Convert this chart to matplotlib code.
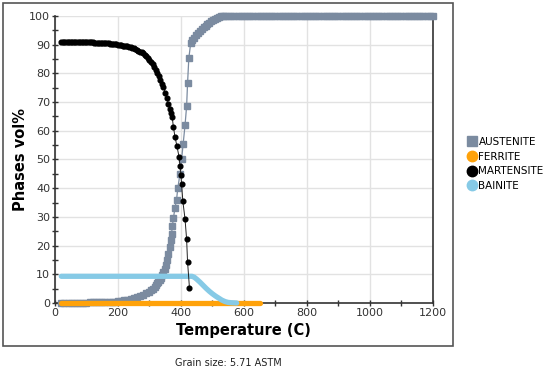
import numpy as np
import matplotlib
matplotlib.use("Agg")
import matplotlib.pyplot as plt
from matplotlib.lines import Line2D
from matplotlib.patches import Rectangle
from matplotlib.ticker import MultipleLocator

# phase fractions vs temperature
t_aus = [20, 30, 40, 50, 60, 70, 80, 90, 100, 110, 120, 130, 140, 150, 160, 170, 180, 190, 200,
         210, 220, 230, 240, 250, 260, 270, 280, 290, 300, 305, 310, 316, 320, 324, 328, 332, 336,
         340, 344, 348, 352, 356, 360, 364, 367, 370, 373, 376, 381, 386, 390, 397, 402, 407, 413,
         418, 421, 425, 431, 436, 442, 448, 454, 460, 466, 472, 478, 484, 490, 496, 502, 508, 514,
         520, 526, 532, 540, 550, 560, 570, 580, 590, 600, 610, 620, 630, 640, 650, 660, 670, 680,
         690, 700, 710, 720, 730, 740, 750, 760, 770, 780, 790, 800, 810, 820, 830, 840, 850, 860,
         870, 880, 890, 900, 910, 920, 930, 940, 950, 960, 970, 980, 990, 1000, 1010, 1020, 1030,
         1040, 1050, 1060, 1070, 1080, 1090, 1100, 1110, 1120, 1130, 1140, 1150, 1160, 1170, 1180,
         1190, 1200]
v_aus = [0.0, 0.0, 0.0, 0.0, 0.1, 0.1, 0.1, 0.1, 0.1, 0.2, 0.2, 0.2, 0.2, 0.3, 0.3, 0.3, 0.4, 0.5, 0.6,
         0.7, 0.9, 1.1, 1.3, 1.6, 2.0, 2.4, 2.9, 3.4, 4.0, 4.4, 4.8, 5.6, 6.2, 6.8, 7.4, 8.0, 8.8,
         9.8, 10.8, 12.0, 13.3, 15.0, 17.0, 19.5, 21.8, 24.2, 26.8, 29.6, 33.0, 36.0, 40.0, 45.0, 50.0, 55.4, 62.0,
         68.6, 76.6, 85.3, 90.6, 91.5, 92.5, 93.3, 94.0, 94.7, 95.4, 96.0, 96.6, 97.1, 97.6, 98.1, 98.6, 99.0, 99.4,
         99.7, 99.9, 100, 100, 100, 100, 100, 100, 100, 100, 100, 100, 100, 100, 100, 100, 100, 100,
         100, 100, 100, 100, 100, 100, 100, 100, 100, 100, 100, 100, 100, 100, 100, 100, 100, 100,
         100, 100, 100, 100, 100, 100, 100, 100, 100, 100, 100, 100, 100, 100, 100, 100, 100,
         100, 100, 100, 100, 100, 100, 100, 100, 100, 100, 100, 100, 100, 100, 100,
         100, 100]

t_ferr = [20, 200, 400, 650]
v_ferr = [0, 0, 0, 0]

t_mart = [20, 25, 30, 35, 40, 45, 50, 55, 60, 65, 70, 75, 80, 85, 90, 95, 100, 105, 110, 115, 120,
          125, 130, 135, 140, 145, 150, 155, 160, 165, 170, 175, 180, 185, 190, 195, 200, 205, 210,
          215, 220, 225, 230, 235, 240, 245, 250, 255, 260, 265, 270, 275, 280, 285, 290, 295, 300,
          305, 310, 315, 320, 325, 330, 335, 340, 344, 350, 355, 360, 365, 369, 372, 376, 381, 387,
          394, 397, 400, 402, 406, 413, 418, 421, 427]
v_mart = [91.0, 91.0, 91.0, 91.0, 91.0, 91.0, 91.0, 90.9, 90.9, 90.9, 90.9, 90.9, 90.9, 90.9, 90.9,
          90.8, 90.8, 90.8, 90.8, 90.8, 90.8, 90.7, 90.7, 90.7, 90.7, 90.6, 90.6, 90.6, 90.6, 90.5,
          90.5, 90.4, 90.4, 90.3, 90.2, 90.1, 90.0, 89.9, 89.8, 89.7, 89.6, 89.5, 89.4, 89.2, 89.1,
          88.9, 88.7, 88.5, 88.2, 87.9, 87.6, 87.3, 87.0, 86.5, 86.0, 85.4, 84.8, 84.0, 83.2, 82.3,
          81.3, 80.2, 79.0, 77.7, 76.4, 75.4, 73.3, 71.3, 69.5, 67.6, 66.2, 64.9, 61.4, 57.9, 54.8,
          50.9, 47.8, 44.6, 41.4, 35.5, 29.2, 22.2, 14.3, 5.3]

t_bain = [20, 200, 400, 435, 442, 450, 460, 470, 480, 490, 500, 510, 520, 530, 540, 550, 560, 577]
v_bain = [9.3, 9.3, 9.3, 9.3, 9.0, 8.3, 7.3, 6.2, 5.1, 4.1, 3.2, 2.4, 1.7, 1.0, 0.5, 0.2, 0.1, 0.0]

phases = ["AUSTENITE", "FERRITE", "MARTENSITE", "BAINITE"]
c_aus = "#7b8ba0"
c_ferr = "#ffa20a"
c_mart = "#000000"
c_bain = "#86cae6"

fig = plt.figure(figsize=(5.5, 3.72), dpi=100)
ax = fig.add_axes([0.1, 0.1855, 0.687, 0.7715])

ax.plot(t_aus, v_aus, color=c_aus, lw=0.9, marker="s", ms=4.2, mec=c_aus, mfc=c_aus,
        zorder=3, clip_on=False)
ax.plot(t_ferr, v_ferr, color=c_ferr, lw=3.8, solid_capstyle="round", zorder=4, clip_on=False)
ax.plot(t_bain, v_bain, color=c_bain, lw=3.8, solid_capstyle="round", zorder=5, clip_on=False)
ax.plot(t_mart, v_mart, color="#222222", lw=0.7, marker="o", ms=3.4, mec=c_mart, mfc=c_mart,
        zorder=6, clip_on=False)

ax.set_xlim(0, 1200)
ax.set_ylim(0, 100)
ax.xaxis.set_major_locator(MultipleLocator(200))
ax.xaxis.set_minor_locator(MultipleLocator(100))
ax.yaxis.set_major_locator(MultipleLocator(10))
ax.yaxis.set_minor_locator(MultipleLocator(5))
ax.tick_params(which="major", direction="inout", length=5, width=1, colors="#333333",
               labelsize=8, pad=1)
ax.tick_params(which="minor", direction="inout", length=4, width=1, colors="#333333")
ax.grid(True, which="major", color="#e2e2e2", lw=1)
ax.set_axisbelow(True)
for s in ["left", "bottom", "right"]:
    ax.spines[s].set_color("#333333")
    ax.spines[s].set_linewidth(1.2)
ax.spines["top"].set_visible(False)

ax.set_xlabel("Temperature (C)", fontsize=10.5, fontweight="bold", labelpad=4)
ax.set_ylabel("Phases vol%", fontsize=10.5, fontweight="bold", labelpad=1)

# outer frame
fig.patches.append(Rectangle((0.0055, 0.07), 0.818, 0.922, transform=fig.transFigure,
                             fill=False, ec="#555555", lw=1.2))

handles = [
    Line2D([], [], ls="none", marker="s", ms=7.5, color=c_aus),
    Line2D([], [], ls="none", marker="o", ms=7.5, color=c_ferr),
    Line2D([], [], ls="none", marker="o", ms=7.5, color=c_mart),
    Line2D([], [], ls="none", marker="o", ms=7.5, color=c_bain),
]
fig.legend(handles, phases, loc="upper left", bbox_to_anchor=(0.852, 0.632), frameon=False,
           fontsize=7.5, handlelength=0.7, handletextpad=0.25, labelspacing=0.45,
           borderaxespad=0, borderpad=0)

fig.text(0.415, 0.025, "Grain size: 5.71 ASTM", fontsize=7, ha="center", va="center",
         color="#222222")

fig.savefig("out.png", dpi=100)
